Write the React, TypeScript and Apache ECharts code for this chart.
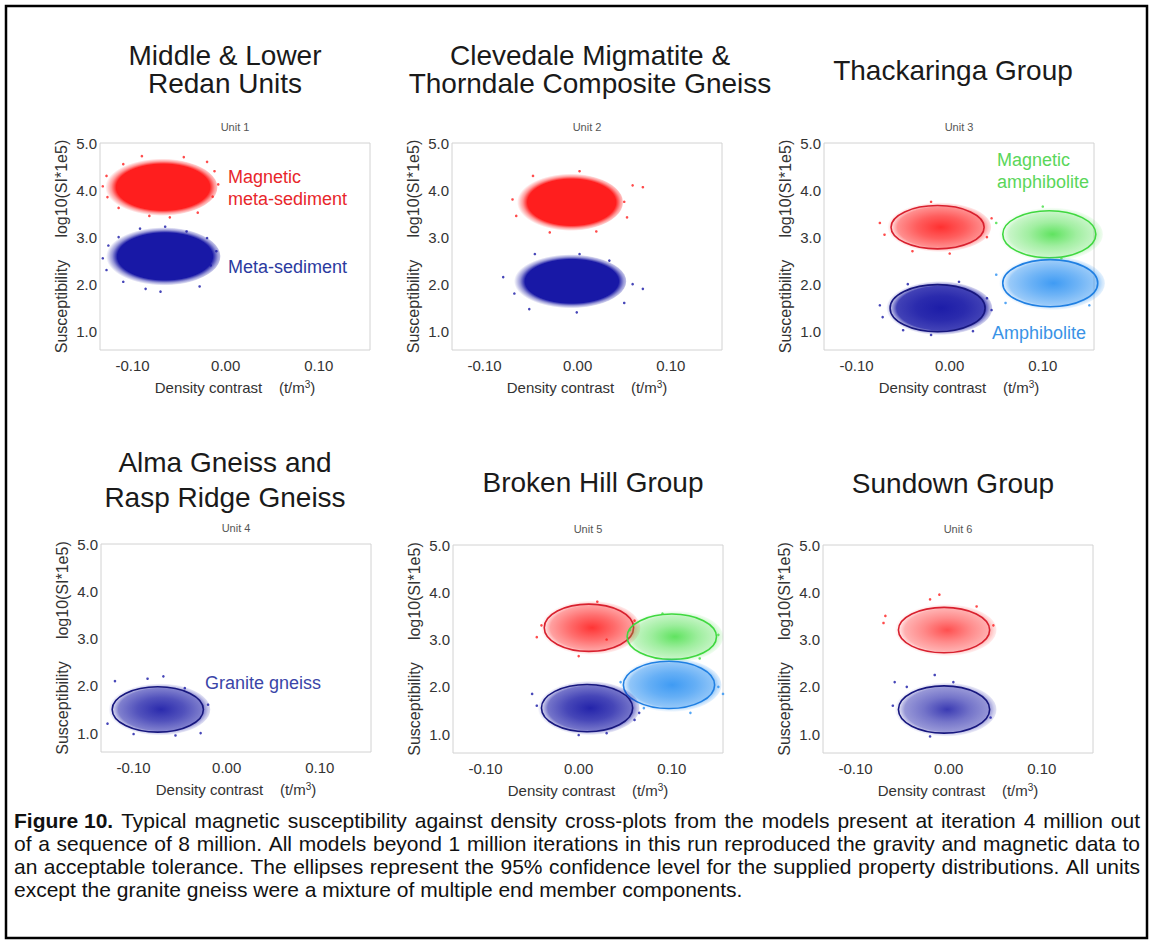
import React, { useEffect, useRef } from "react";
import * as echarts from "echarts";

// ---------------- data ----------------
const panelTitles = [
  "Middle & Lower\nRedan Units",
  "Clevedale Migmatite &\nThorndale Composite Gneiss",
  "Thackaringa Group",
  "Alma Gneiss and\nRasp Ridge Gneiss",
  "Broken Hill Group",
  "Sundown Group",
];
const unitNames = ["Unit 1", "Unit 2", "Unit 3", "Unit 4", "Unit 5", "Unit 6"];
const xTickValues = [-0.1, 0, 0.1];
const yTickValues = [1, 2, 3, 4, 5];
const xRange = [-0.135, 0.155];
const yRange = [0.6, 5.0];
const xAxisTitle = "Density contrast    (t/m{sup|3})";
const yAxisTitle = "Susceptibility     log10(SI*1e5)";

// property clusters (centre and 95% semi-axes, density contrast / log10 susceptibility)
const clusterUnit = [1, 1, 2, 2, 3, 3, 3, 3, 4, 5, 5, 5, 5, 6, 6];
const clusterColour = ["red", "navy", "red", "navy", "red", "navy", "green", "azure", "navy", "red", "green", "azure", "navy", "red", "navy"];
const clusterCentreX = [-0.071, -0.069, -0.01, -0.01, -0.013, -0.013, 0.107, 0.108, -0.074, 0.011, 0.1, 0.097, 0.009, -0.005, -0.005];
const clusterCentreY = [4.06, 2.59, 3.74, 2.06, 3.21, 1.49, 3.06, 2.02, 1.5, 3.25, 3.06, 2.04, 1.55, 3.2, 1.52];
const clusterSemiX = [0.054, 0.055, 0.051, 0.054, 0.05, 0.051, 0.05, 0.051, 0.049, 0.048, 0.048, 0.049, 0.049, 0.049, 0.049];
const clusterSemiY = [0.53, 0.54, 0.53, 0.5, 0.46, 0.5, 0.5, 0.5, 0.48, 0.5, 0.48, 0.5, 0.5, 0.48, 0.5];

// scattered samples lying outside the dense cores
const strayU1Red = [[-0.132, 4.08], [-0.127, 3.85], [-0.128, 4.3], [-0.012, 4.4], [-0.014, 3.86], [-0.008, 4.12], [-0.09, 4.72], [-0.045, 4.7], [-0.082, 3.45], [-0.03, 3.52], [-0.06, 3.42], [-0.11, 4.55], [-0.02, 4.6], [-0.115, 3.62]];
const strayU1Navy = [[-0.132, 2.55], [-0.126, 2.82], [-0.128, 2.3], [-0.092, 3.18], [-0.042, 3.12], [-0.065, 3.22], [-0.086, 1.9], [-0.07, 1.84], [-0.028, 1.95], [-0.01, 2.7], [-0.016, 2.4], [-0.11, 2.05], [-0.02, 2.98], [-0.115, 3.0]];
const strayU2Red = [[0.07, 4.06], [0.059, 4.1], [-0.066, 3.45], [0.053, 3.42], [-0.048, 4.3], [0.002, 4.4], [-0.07, 3.8], [0.05, 3.75], [-0.03, 3.1], [0.02, 3.12]];
const strayU2Navy = [[-0.08, 2.15], [0.07, 1.9], [0.059, 2.0], [-0.046, 2.64], [0.002, 2.64], [0.034, 2.5], [-0.052, 1.47], [-0.001, 1.4], [-0.068, 1.8], [0.05, 1.6]];
const strayU3Red = [[-0.075, 3.3], [-0.07, 3.05], [0.045, 3.4], [0.04, 3.0], [-0.02, 3.75], [0.0, 2.65], [-0.04, 2.7]];
const strayU3Navy = [[-0.075, 1.55], [-0.072, 1.3], [0.045, 1.45], [0.04, 1.7], [-0.02, 0.92], [-0.05, 1.02], [0.01, 2.05], [-0.045, 2.0], [0.025, 1.0]];
const strayU3Green = [[0.05, 3.3], [0.16, 3.1], [0.1, 3.65], [0.12, 2.55]];
const strayU3Azure = [[0.05, 2.2], [0.162, 2.0], [0.06, 1.6], [0.15, 1.55]];
const strayU4Navy = [[-0.12, 2.1], [-0.085, 2.15], [-0.068, 2.2], [-0.045, 1.95], [-0.128, 1.2], [-0.055, 0.95], [-0.02, 1.6], [-0.1, 0.98], [-0.028, 1.0]];
const strayU5Red = [[-0.04, 3.3], [-0.045, 3.05], [0.06, 3.4], [0.02, 3.8], [0.0, 2.65], [0.03, 3.0]];
const strayU5Green = [[0.055, 3.2], [0.15, 3.1], [0.09, 3.55], [0.13, 2.6]];
const strayU5Azure = [[0.045, 2.1], [0.15, 2.0], [0.155, 1.85], [0.07, 1.55], [0.12, 1.45]];
const strayU5Navy = [[-0.05, 1.85], [-0.045, 1.6], [0.065, 1.45], [0.06, 1.3], [0.0, 0.98], [0.03, 1.02]];
const strayU6Red = [[-0.068, 3.5], [-0.07, 3.35], [0.048, 3.3], [-0.01, 3.95], [-0.02, 3.85], [0.03, 3.7]];
const strayU6Navy = [[-0.058, 2.1], [-0.045, 2.0], [-0.015, 2.25], [0.005, 2.1], [0.045, 1.35], [-0.06, 1.6], [-0.02, 0.95]];
const strayByCluster = [strayU1Red, strayU1Navy, strayU2Red, strayU2Navy, strayU3Red, strayU3Navy, strayU3Green, strayU3Azure, strayU4Navy, strayU5Red, strayU5Green, strayU5Azure, strayU5Navy, strayU6Red, strayU6Navy];

const captionLead = "Figure 10.";
const captionLines = [
  "Figure 10. Typical magnetic susceptibility against density cross-plots from the models present at iteration 4 million out",
  "of a sequence of 8 million. All models beyond 1 million iterations in this run reproduced the gravity and magnetic data to",
  "an acceptable tolerance. The ellipses represent the 95% confidence level for the supplied property distributions. All units",
  "except the granite gneiss were a mixture of multiple end member components.",
];

// ---------------- styles / layout ----------------
const FONT = "'Liberation Sans', Arial, Helvetica, sans-serif";
const CAPTION_SIZE = 21;
const CAPTION_LEFT = 14;
const CAPTION_RIGHT = 1140;
const pointColour: Record<string, string> = { red: "#ff1e1e", navy: "#1818a6", green: "#44de44", azure: "#2a90f2" };
const outlineColour: Record<string, string> = { red: "#d8202e", navy: "#17177e", green: "#3fd83f", azure: "#1f7fe2" };
// cloud opacity [centre, middle, near ellipse edge] per cluster
const clusterShade = [
  [1, 1, 1],
  [1, 1, 1],
  [1, 1, 1],
  [1, 1, 1],
  [0.92, 0.72, 0.5],
  [0.98, 0.92, 0.82],
  [0.85, 0.5, 0.3],
  [0.9, 0.68, 0.48],
  [0.92, 0.75, 0.55],
  [0.9, 0.65, 0.42],
  [0.85, 0.52, 0.32],
  [0.9, 0.72, 0.52],
  [0.95, 0.8, 0.6],
  [0.78, 0.52, 0.35],
  [0.85, 0.6, 0.45],
];
const clusterOutlined = [false, false, false, false, true, true, true, true, true, true, true, true, true, true, true];
const FUZZ = 1.15;

const grids = [
  { left: 100, top: 143, width: 270, height: 207 },
  { left: 452, top: 143, width: 270, height: 207 },
  { left: 824, top: 143, width: 270, height: 207 },
  { left: 101, top: 544, width: 270, height: 208 },
  { left: 453, top: 545, width: 270, height: 208 },
  { left: 823, top: 545, width: 270, height: 208 },
];
const titlePos = [
  { x: 225, y: 69, lh: 28 },
  { x: 590, y: 69, lh: 28 },
  { x: 953, y: 70, lh: 28 },
  { x: 225, y: 480, lh: 35 },
  { x: 593, y: 482, lh: 28 },
  { x: 953, y: 483, lh: 28 },
];
const clusterLabels = [
  { text: "Magnetic\nmeta-sediment", x: 228, y: 188, color: "#e8262b" },
  { text: "Meta-sediment", x: 228, y: 267, color: "#2b3aa0" },
  { text: "Magnetic\namphibolite", x: 997, y: 171, color: "#5ad65a" },
  { text: "Amphibolite", x: 992, y: 333, color: "#3a93e6" },
  { text: "Granite gneiss", x: 205, y: 683, color: "#3a45a8" },
];

function rgba(hex: string, a: number) {
  const n = parseInt(hex.slice(1), 16);
  return `rgba(${(n >> 16) & 255},${(n >> 8) & 255},${n & 255},${a})`;
}

// builds a rich-text line whose word gaps are widened so the line fills the caption width
function justify(line: string, last: boolean) {
  const ctx = document.createElement("canvas").getContext("2d")!;
  let lead = "";
  let rest = line;
  if (line.startsWith(captionLead)) {
    lead = captionLead;
    rest = line.slice(captionLead.length).trim();
  }
  const words = rest.split(" ");
  ctx.font = `bold ${CAPTION_SIZE}px ${FONT}`;
  const leadW = lead ? ctx.measureText(lead).width : 0;
  ctx.font = `${CAPTION_SIZE}px ${FONT}`;
  const wordsW = words.reduce((s, w) => s + ctx.measureText(w).width, 0);
  const spaceW = ctx.measureText(" ").width;
  const gaps = words.length - 1 + (lead ? 1 : 0);
  const gapW = last ? spaceW : Math.max(spaceW * 0.8, (CAPTION_RIGHT - CAPTION_LEFT - leadW - wordsW) / gaps);
  const body = words.join("{s| }");
  return { text: (lead ? `{b|${lead}}{s| }` : "") + body, gapW };
}

function buildOption() {
  const xAxes: any[] = [];
  const yAxes: any[] = [];
  const series: any[] = [];
  const graphic: any[] = [];

  grids.forEach((g, p) => {
    xAxes.push({
      gridIndex: p,
      type: "value",
      min: xRange[0],
      max: xRange[1],
      axisLine: { show: false },
      axisTick: { show: false },
      splitLine: { show: false },
      axisLabel: {
        customValues: xTickValues,
        formatter: (v: number) => v.toFixed(2),
        fontSize: 15,
        color: "#333",
        margin: 8,
        fontFamily: FONT,
      },
      name: xAxisTitle,
      nameLocation: "middle",
      nameGap: 29,
      nameTextStyle: {
        fontSize: 15,
        color: "#333",
        fontFamily: FONT,
        rich: { sup: { fontSize: 10, verticalAlign: "top", padding: [0, 0, 6, 0], color: "#333", fontFamily: FONT } },
      },
    });
    yAxes.push({
      gridIndex: p,
      type: "value",
      min: yRange[0],
      max: yRange[1],
      axisLine: { show: false },
      axisTick: { show: false },
      splitLine: { show: false },
      axisLabel: {
        customValues: yTickValues,
        formatter: (v: number) => v.toFixed(1),
        fontSize: 15,
        color: "#333",
        margin: 3,
        fontFamily: FONT,
      },
      name: yAxisTitle,
      nameLocation: "middle",
      nameGap: 31,
      nameTextStyle: { fontSize: 16, color: "#333", fontFamily: FONT },
    });

    const rows: any[] = [];
    clusterUnit.forEach((u, k) => {
      if (u === p + 1) rows.push([clusterCentreX[k], clusterCentreY[k], clusterSemiX[k], clusterSemiY[k], k]);
    });
    series.push({
      type: "custom",
      xAxisIndex: p,
      yAxisIndex: p,
      silent: true,
      clip: false,
      encode: { x: 0, y: 1 },
      data: rows,
      renderItem: (params: any, api: any) => {
        const k = api.value(4);
        const c = api.coord([api.value(0), api.value(1)]);
        const rx = Math.abs(api.size([api.value(2), 0])[0]);
        const ry = Math.abs(api.size([0, api.value(3)])[1]);
        const col = pointColour[clusterColour[k]];
        const sh = clusterShade[k];
        const edge = 1 / FUZZ;
        const grad = new echarts.graphic.RadialGradient(0.53, 0.5, 0.5, [
          { offset: 0, color: rgba(col, sh[0]) },
          { offset: 0.45, color: rgba(col, sh[1]) },
          { offset: edge * 0.93, color: rgba(col, sh[2]) },
          { offset: edge * 1.03, color: rgba(col, sh[2] * 0.45) },
          { offset: 1, color: rgba(col, 0) },
        ]);
        const children: any[] = [
          {
            type: "circle",
            x: c[0],
            y: c[1],
            scaleX: rx / ry,
            scaleY: 1,
            shape: { cx: 0, cy: 0, r: ry * FUZZ },
            style: { fill: grad },
          },
        ];
        if (clusterOutlined[k]) {
          children.push({
            type: "ellipse",
            shape: { cx: c[0], cy: c[1], rx, ry },
            style: { fill: "none", stroke: outlineColour[clusterColour[k]], lineWidth: 1.6 },
          });
        }
        return { type: "group", children };
      },
    });
    clusterUnit.forEach((u, k) => {
      if (u !== p + 1) return;
      series.push({
        type: "scatter",
        xAxisIndex: p,
        yAxisIndex: p,
        silent: true,
        symbolSize: 2.6,
        itemStyle: { color: pointColour[clusterColour[k]] },
        data: strayByCluster[k],
      });
    });

    const t = titlePos[p];
    graphic.push({
      type: "text",
      x: t.x,
      y: t.y,
      style: {
        text: panelTitles[p],
        font: `28px ${FONT}`,
        lineHeight: t.lh,
        fill: "#1a1a1a",
        textAlign: "center",
        textVerticalAlign: "middle",
      },
    });
    graphic.push({
      type: "text",
      x: g.left + g.width / 2,
      y: g.top - 16,
      style: {
        text: unitNames[p],
        font: `11px ${FONT}`,
        fill: "#555",
        textAlign: "center",
        textVerticalAlign: "middle",
      },
    });
  });

  clusterLabels.forEach((l) => {
    graphic.push({
      type: "text",
      x: l.x,
      y: l.y,
      style: {
        text: l.text,
        font: `18px ${FONT}`,
        lineHeight: 22,
        fill: l.color,
        textAlign: "left",
        textVerticalAlign: "middle",
      },
    });
  });

  captionLines.forEach((line, i) => {
    const j = justify(line, i === captionLines.length - 1);
    graphic.push({
      type: "text",
      x: CAPTION_LEFT,
      y: 820 + i * 23,
      style: {
        text: j.text,
        fontSize: CAPTION_SIZE,
        fontFamily: FONT,
        fill: "#111",
        textAlign: "left",
        textVerticalAlign: "middle",
        rich: {
          b: { fontSize: CAPTION_SIZE, fontFamily: FONT, fontWeight: "bold", fill: "#111" },
          s: { fontSize: CAPTION_SIZE, fontFamily: FONT, width: j.gapW },
        },
      },
    });
  });

  graphic.push({
    type: "rect",
    shape: { x: 6, y: 6, width: 1141, height: 932 },
    style: { fill: "none", stroke: "#000", lineWidth: 2.5 },
    silent: true,
  });

  return {
    animation: false,
    backgroundColor: "#ffffff",
    textStyle: { fontFamily: FONT },
    grid: grids.map((g) => ({ ...g, show: true, borderColor: "#d2d2d2", borderWidth: 1, backgroundColor: "transparent" })),
    xAxis: xAxes,
    yAxis: yAxes,
    series,
    graphic,
  };
}

export default function App() {
  const ref = useRef<HTMLDivElement>(null);
  useEffect(() => {
    const chart = echarts.init(ref.current!, null, { renderer: "svg" });
    chart.setOption(buildOption() as any);
    return () => chart.dispose();
  }, []);
  return (
    <div
      ref={ref}
      style={{ position: "absolute", left: 0, top: 0, width: 1151, height: 945, background: "#fff" }}
    />
  );
}
